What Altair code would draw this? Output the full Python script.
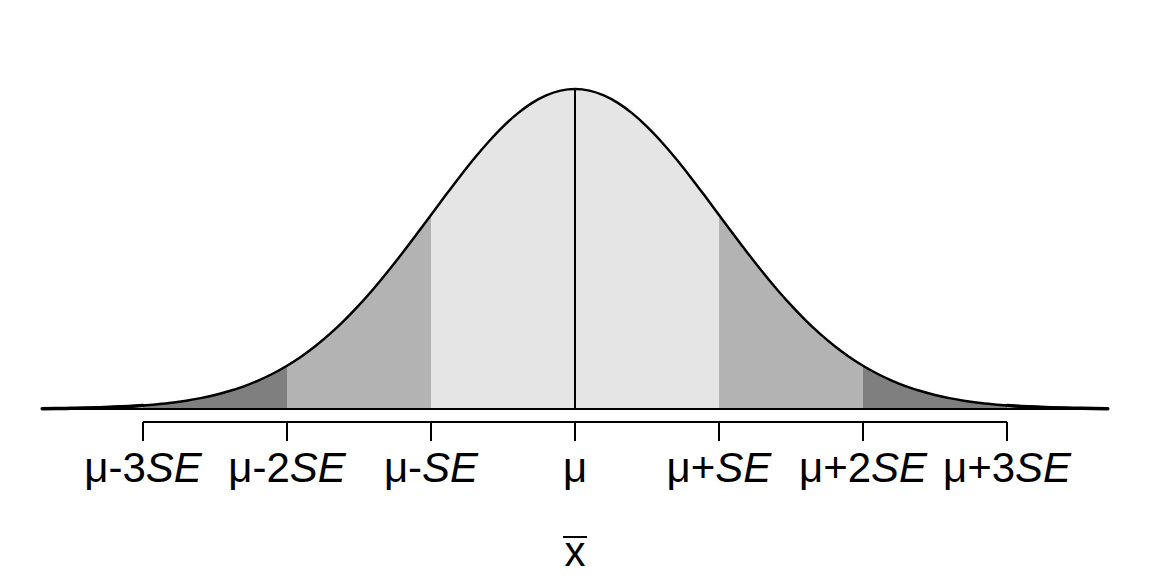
import altair as alt
import pandas as pd

# z positions (in SE units) and density heights
z_values = [-3.7, -3.6, -3.5, -3.4, -3.3, -3.2, -3.1, -3.0, -2.9, -2.8, -2.7, -2.6, -2.5,
            -2.4, -2.3, -2.2, -2.1, -2.0, -1.9, -1.8, -1.7, -1.6, -1.5, -1.4, -1.3, -1.2,
            -1.1, -1.0, -0.9, -0.8, -0.7, -0.6, -0.5, -0.4, -0.3, -0.2, -0.1, 0.0,
            0.1, 0.2, 0.3, 0.4, 0.5, 0.6, 0.7, 0.8, 0.9, 1.0, 1.1, 1.2, 1.3, 1.4, 1.5,
            1.6, 1.7, 1.8, 1.9, 2.0, 2.1, 2.2, 2.3, 2.4, 2.5, 2.6, 2.7, 2.8, 2.9, 3.0,
            3.1, 3.2, 3.3, 3.4, 3.5, 3.6, 3.7]
density = [0.0004, 0.0006, 0.0009, 0.0012, 0.0017, 0.0024, 0.0033, 0.0044, 0.0060, 0.0079,
           0.0104, 0.0136, 0.0175, 0.0224, 0.0283, 0.0355, 0.0440, 0.0540, 0.0656, 0.0790,
           0.0940, 0.1109, 0.1295, 0.1497, 0.1714, 0.1942, 0.2179, 0.2420, 0.2661, 0.2897,
           0.3123, 0.3332, 0.3521, 0.3683, 0.3814, 0.3910, 0.3970, 0.3989,
           0.3970, 0.3910, 0.3814, 0.3683, 0.3521, 0.3332, 0.3123, 0.2897, 0.2661, 0.2420,
           0.2179, 0.1942, 0.1714, 0.1497, 0.1295, 0.1109, 0.0940, 0.0790, 0.0656, 0.0540,
           0.0440, 0.0355, 0.0283, 0.0224, 0.0175, 0.0136, 0.0104, 0.0079, 0.0060, 0.0044,
           0.0033, 0.0024, 0.0017, 0.0012, 0.0009, 0.0006, 0.0004]

# shaded bands
band_names = ["lo3", "lo2", "mid", "hi2", "hi3"]
band_lo = [-3, -2, -1, 1, 2]
band_hi = [-2, -1, 1, 2, 3]
band_fill = ["#7F7F7F", "#B3B3B3", "#E5E5E5", "#B3B3B3", "#7F7F7F"]

# axis ticks and labels
tick_z = [-3, -2, -1, 0, 1, 2, 3]
label_pre = ["\u03bc-3", "\u03bc-2", "\u03bc-", "\u03bc", "\u03bc+", "\u03bc+2", "\u03bc+3"]
label_post = ["SE", "SE", "SE", "", "SE", "SE", "SE"]
axis_title = "x"

FONT = "Liberation Sans"
FS = 42
PX_PER_UNIT = 144.0
char_w = {"\u03bc": 0.576, "-": 0.333, "+": 0.584, "S": 0.667, "E": 0.667, "x": 0.5}


def text_w(s):
    return sum(char_w.get(c, 0.556) for c in s) * FS


curve = pd.DataFrame({"z": z_values, "d": density})
curve["side"] = ["lo" if z <= -3 else ("hi" if z >= 3 else "mid") for z in z_values]
tails = curve[curve["side"] != "mid"]

rows = []
for name, lo, hi, col in zip(band_names, band_lo, band_hi, band_fill):
    for zz, dd in zip(z_values, density):
        if lo - 1e-9 <= zz <= hi + 1e-9:
            rows.append({"band": name, "z": zz, "d": dd, "base": 0.0, "fill": col})
bands = pd.DataFrame(rows)

labels = pd.DataFrame({
    "z": tick_z,
    "pre": label_pre,
    "post": label_post,
})
labels["zj"] = [z + (text_w(p) - text_w(q)) / 2 / PX_PER_UNIT
                for z, p, q in zip(tick_z, label_pre, label_post)]

W, H = 1136, 560
xs = alt.Scale(domain=[-567 / 144, 569 / 144], nice=False, zero=False)
ys = alt.Scale(domain=[-0.1982, 0.5], nice=False, zero=False)
X = lambda f="z": alt.X(f, type="quantitative", scale=xs, axis=None)
Y = lambda f="d": alt.Y(f, type="quantitative", scale=ys, axis=None)

area_layers = []
for name, col in zip(band_names, band_fill):
    area_layers.append(
        alt.Chart(bands).transform_filter(alt.datum.band == name).mark_area(
            interpolate="monotone", color=col, opacity=1
        ).encode(x=X(), y=Y(), y2="base")
    )

baseline = alt.Chart(pd.DataFrame({"a": [z_values[0]], "b": [z_values[-1]], "y": [0.0]})).mark_rule(
    color="black", strokeWidth=2
).encode(x=X("a"), x2="b", y=Y("y"))

center = alt.Chart(pd.DataFrame({"z": [0.0], "y0": [0.0], "y1": [density[z_values.index(0.0)]]})).mark_rule(
    color="black", strokeWidth=2
).encode(x=X(), y=Y("y0"), y2="y1")

line = alt.Chart(curve).mark_line(
    color="black", strokeWidth=2.5, interpolate="monotone", strokeCap="round"
).encode(x=X(), y=Y())

tail_line = alt.Chart(tails).mark_line(
    color="black", strokeWidth=3.5, interpolate="monotone", strokeCap="round"
).encode(x=X(), y=Y(), detail="side:N")

axis_line = alt.Chart(pd.DataFrame({"a": [tick_z[0]], "b": [tick_z[-1]]})).mark_rule(
    color="black", strokeWidth=2
).encode(x=X("a"), x2="b", y=alt.value(414))

ticks = alt.Chart(pd.DataFrame({"z": tick_z})).mark_rule(
    color="black", strokeWidth=2
).encode(x=X(), y=alt.value(414), y2=alt.value(433))

lab_pre = alt.Chart(labels).mark_text(
    font=FONT, fontSize=FS, align="right", baseline="alphabetic", color="black"
).encode(x=X("zj"), y=alt.value(474), text="pre:N")

lab_post = alt.Chart(labels).mark_text(
    font=FONT, fontSize=FS, fontStyle="italic", align="left", baseline="alphabetic", color="black"
).encode(x=X("zj"), y=alt.value(474), text="post:N")

title = alt.Chart(pd.DataFrame({"z": [0.0], "t": [axis_title]})).mark_text(
    font=FONT, fontSize=FS, align="center", baseline="alphabetic", color="black"
).encode(x=X(), y=alt.value(558), text="t:N")

half_bar = (text_w("x") / 2 + 1.5) / PX_PER_UNIT
title_bar = alt.Chart(pd.DataFrame({"a": [-half_bar], "b": [half_bar]})).mark_rule(
    color="black", strokeWidth=2
).encode(x=X("a"), x2="b", y=alt.value(529))

chart = alt.layer(
    *area_layers, baseline, center, line, tail_line, axis_line, ticks,
    lab_pre, lab_post, title, title_bar
).properties(
    width=W, height=H, padding=0, autosize=alt.AutoSizeParams(type="none")
).configure_view(stroke=None)

chart.save("out.html", embed_options={"renderer": "svg", "actions": False})
